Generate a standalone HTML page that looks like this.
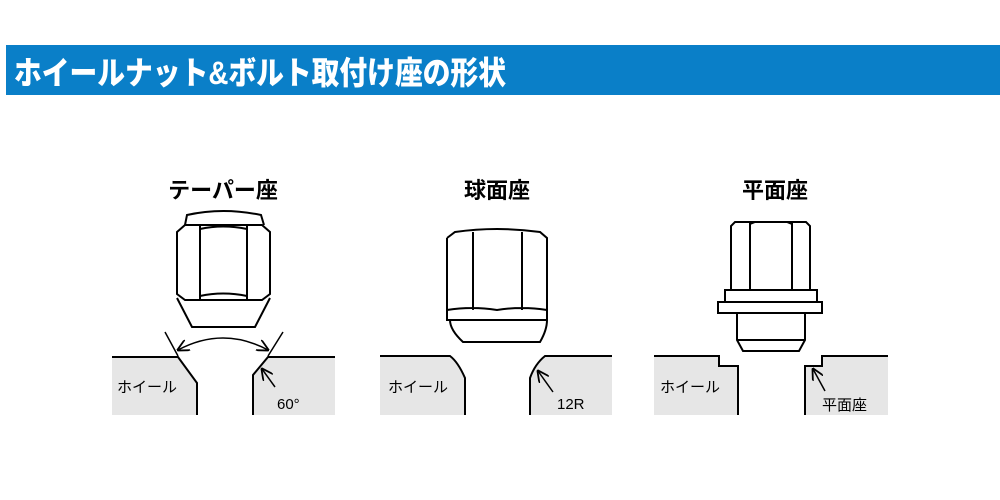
<!DOCTYPE html>
<html><head><meta charset="utf-8"><style>
html,body{margin:0;padding:0;background:#fff;}
svg{display:block;}
text{font-family:"Liberation Sans","Noto Sans CJK JP",sans-serif;}
</style></head><body>
<svg width="1000" height="500" viewBox="0 0 1000 500" xmlns="http://www.w3.org/2000/svg">
<defs>
<marker id="ah" viewBox="0 0 10 10" refX="9" refY="5" markerWidth="8" markerHeight="8" orient="auto-start-reverse">
<path d="M0,0 L10,5 L0,10" fill="none" stroke="#000" stroke-width="1.5"/>
</marker>
</defs>
<rect x="6" y="45" width="994" height="50" fill="#0a7fc8"/>
<text x="14" y="84" font-size="32" font-weight="900" fill="#fff" textLength="492" lengthAdjust="spacingAndGlyphs">ホイールナット&amp;ボルト取付け座の形状</text>

<g fill="none" stroke="#000" stroke-width="2">
<!-- Panel 1 -->
<text x="223" y="198" font-size="22" font-weight="bold" text-anchor="middle" fill="#000" stroke="none">テーパー座</text>
<path d="M112,357 H178 L197,383 V415 H112 Z" fill="#e6e6e6" stroke="none"/>
<path d="M335,357 H268 L253,375 V415 H335 Z" fill="#e6e6e6" stroke="none"/>
<path d="M112,357 H178 L197,383 V415"/>
<path d="M335,357 H268 L253,375 V415"/>
<path d="M165,332 L178,356" stroke-width="1.5"/>
<path d="M283,332 L268,356" stroke-width="1.5"/>
<path d="M178,350 Q223,326 268,350" stroke-width="1.5" marker-start="url(#ah)" marker-end="url(#ah)"/>
<path d="M275,387 L262,369" stroke-width="1.5" marker-end="url(#ah)"/>
<path d="M185,225 L187,215 Q223,207 261,215 L264,225"/>
<path d="M177,232 L185,225 H262 L270,232 V294 L262,300 H185 L177,294 Z"/>
<path d="M200,225 V300 M247,225 V300"/>
<path d="M200,229 Q223,224 247,229 M200,296 Q223,291 247,296"/>
<path d="M177,298 L192,327 H255 L270,298"/>
<text x="117" y="392" font-size="15" fill="#000" stroke="none">ホイール</text>
<text x="277" y="409" font-size="15" fill="#000" stroke="none">60°</text>

<!-- Panel 2 -->
<text x="497" y="198" font-size="22" font-weight="bold" text-anchor="middle" fill="#000" stroke="none">球面座</text>
<path d="M380,356 H450 Q458,362 465,378 V415 H380 Z" fill="#e6e6e6" stroke="none"/>
<path d="M612,356 H545 Q535,364 530,378 V415 H612 Z" fill="#e6e6e6" stroke="none"/>
<path d="M380,356 H450 Q458,362 465,378 V415"/>
<path d="M612,356 H545 Q535,364 530,378 V415"/>
<path d="M553,392 L538,371" stroke-width="1.5" marker-end="url(#ah)"/>
<path d="M447,238 L455,232 Q497,226 540,232 L547,238 V320 Q547,330 540,342 H463 Q450,330 450,320"/>
<path d="M447,238 V320 H547"/>
<path d="M473,232 V310 M522,232 V310 M447,310 Q472,306 497,310 Q522,306 547,310"/>
<text x="388" y="392" font-size="15" fill="#000" stroke="none">ホイール</text>
<text x="557" y="409" font-size="15" fill="#000" stroke="none">12R</text>

<!-- Panel 3 -->
<text x="775" y="198" font-size="22" font-weight="bold" text-anchor="middle" fill="#000" stroke="none">平面座</text>
<path d="M654,356 H719 V366 H738 V415 H654 Z" fill="#e6e6e6" stroke="none"/>
<path d="M888,356 H822 V366 H805 V415 H888 Z" fill="#e6e6e6" stroke="none"/>
<path d="M654,356 H719 V366 H738 V415"/>
<path d="M888,356 H822 V366 H805 V415"/>
<path d="M825,391 L813,369" stroke-width="1.5" marker-end="url(#ah)"/>
<path d="M731,290 V226 L735,222 H806 L810,226 V290"/>
<path d="M750,222 V290 M792,222 V290 M750,224 L755,222 M792,224 L787,222"/>
<rect x="725" y="290" width="92" height="12"/>
<rect x="718" y="302" width="104" height="11"/>
<path d="M737,313 V340 L743,351 H799 L805,340 V313 M737,340 H805"/>
<text x="660" y="392" font-size="15" fill="#000" stroke="none">ホイール</text>
<text x="822" y="410" font-size="15" fill="#000" stroke="none">平面座</text>
</g>
</svg>
</body></html>
